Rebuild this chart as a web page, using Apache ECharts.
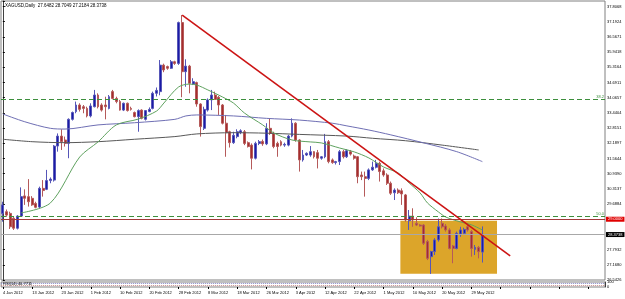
<!DOCTYPE html>
<html>
<head>
<meta charset="utf-8">
<script src="https://cdn.jsdelivr.net/npm/echarts@6/dist/echarts.min.js"></script>
<style>
  html, body { margin: 0; padding: 0; background: #fff; }
  #chart { width: 625px; height: 299px; }
</style>
</head>
<body>
<div id="chart"></div>
<script>
// bar dates (daily, broker feed incl. Sunday bars)
const dates = [
  '4 Jan 2012','5 Jan 2012','6 Jan 2012','8 Jan 2012','9 Jan 2012','10 Jan 2012','11 Jan 2012','12 Jan 2012',
  '13 Jan 2012','15 Jan 2012','16 Jan 2012','17 Jan 2012','18 Jan 2012','19 Jan 2012','20 Jan 2012','22 Jan 2012',
  '23 Jan 2012','24 Jan 2012','25 Jan 2012','26 Jan 2012','27 Jan 2012','29 Jan 2012','30 Jan 2012','31 Jan 2012',
  '1 Feb 2012','2 Feb 2012','3 Feb 2012','5 Feb 2012','6 Feb 2012','7 Feb 2012','8 Feb 2012','9 Feb 2012',
  '10 Feb 2012','12 Feb 2012','13 Feb 2012','14 Feb 2012','15 Feb 2012','16 Feb 2012','17 Feb 2012','19 Feb 2012',
  '20 Feb 2012','21 Feb 2012','22 Feb 2012','23 Feb 2012','24 Feb 2012','25 Feb 2012','26 Feb 2012','27 Feb 2012',
  '28 Feb 2012','29 Feb 2012','1 Mar 2012','2 Mar 2012','4 Mar 2012','5 Mar 2012','6 Mar 2012','7 Mar 2012',
  '8 Mar 2012','9 Mar 2012','11 Mar 2012','12 Mar 2012','13 Mar 2012','14 Mar 2012','15 Mar 2012','16 Mar 2012',
  '18 Mar 2012','19 Mar 2012','20 Mar 2012','21 Mar 2012','22 Mar 2012','23 Mar 2012','24 Mar 2012','25 Mar 2012',
  '26 Mar 2012','27 Mar 2012','28 Mar 2012','29 Mar 2012','30 Mar 2012','31 Mar 2012','1 Apr 2012','2 Apr 2012',
  '3 Apr 2012','4 Apr 2012','5 Apr 2012','6 Apr 2012','8 Apr 2012','9 Apr 2012','10 Apr 2012','11 Apr 2012',
  '12 Apr 2012','13 Apr 2012','15 Apr 2012','16 Apr 2012','17 Apr 2012','18 Apr 2012','19 Apr 2012','20 Apr 2012',
  '22 Apr 2012','23 Apr 2012','24 Apr 2012','25 Apr 2012','26 Apr 2012','27 Apr 2012','29 Apr 2012','30 Apr 2012',
  '1 May 2012','2 May 2012','3 May 2012','4 May 2012','6 May 2012','7 May 2012','8 May 2012','9 May 2012',
  '10 May 2012','11 May 2012','13 May 2012','14 May 2012','15 May 2012','16 May 2012','17 May 2012','18 May 2012',
  '20 May 2012','21 May 2012','22 May 2012','23 May 2012','24 May 2012','25 May 2012','27 May 2012','28 May 2012',
  '29 May 2012','30 May 2012','31 May 2012','1 Jun 2012'
];

// [open, close, low, high]
const candles = [
  [29.24,29.59,28.90,29.72],[29.31,29.17,29.10,29.40],[29.24,28.69,28.60,29.31],[29.04,28.63,28.56,29.11],
  [28.63,29.13,28.58,29.17],[29.13,29.93,29.10,30.31],[29.96,29.86,29.59,30.23],[29.93,29.72,29.52,30.65],
  [29.86,29.59,29.55,29.95],[29.65,29.49,29.45,29.72],[29.50,30.27,29.45,30.34],[30.27,30.18,29.93,30.61],
  [30.23,30.59,30.20,31.03],[30.59,30.65,30.48,30.72],[30.61,32.01,30.55,32.05],[32.01,32.42,31.78,32.53],
  [32.42,32.19,31.85,32.70],[32.26,32.12,31.99,32.40],[32.12,33.11,31.51,33.15],[33.11,33.39,33.06,33.43],
  [33.43,33.70,33.36,33.84],[33.70,33.52,33.43,33.77],[33.63,33.56,33.36,33.70],[33.56,33.25,33.19,33.63],
  [33.25,33.66,33.19,33.77],[33.63,34.11,33.60,34.32],[34.11,33.63,33.56,34.18],[33.70,33.49,33.43,33.77],
  [33.70,33.63,33.11,34.04],[33.56,34.04,33.52,34.11],[34.25,33.97,33.93,34.32],[33.97,33.84,33.77,34.04],
  [33.84,33.49,33.47,33.91],[33.49,33.77,33.45,33.80],[33.77,33.47,33.43,33.80],[33.56,33.52,33.47,33.63],
  [33.39,33.22,33.19,33.43],[33.22,33.47,32.60,33.52],[33.49,33.15,33.11,33.52],[33.11,33.47,33.06,33.49],
  [33.43,33.52,33.40,33.60],[33.56,34.18,33.52,34.25],[34.18,34.30,34.05,34.42],[34.25,35.34,34.10,35.55],
  [35.34,35.14,35.05,35.40],[35.28,35.21,35.15,35.32],[35.21,35.48,35.18,35.55],[35.48,35.41,35.35,35.52],
  [35.41,37.09,35.35,37.13],[37.09,35.07,34.02,37.40],[35.07,35.30,34.45,35.58],[35.30,34.59,34.18,35.35],
  [34.56,34.66,34.52,34.80],[34.62,33.74,33.63,34.66],[33.74,32.81,32.40,33.77],[32.74,33.52,32.67,33.63],
  [33.49,33.91,33.43,33.97],[33.91,34.11,33.49,34.32],[34.11,33.93,33.91,34.25],[34.02,33.70,33.29,34.07],
  [33.70,32.95,32.90,33.74],[32.95,32.56,31.57,33.29],[32.60,32.15,31.95,32.64],[32.15,32.45,32.10,32.60],
  [32.40,32.60,32.33,32.70],[32.56,32.64,32.50,32.70],[32.60,32.12,32.05,32.67],[32.15,31.99,31.95,32.20],
  [32.05,31.51,31.05,32.12],[31.51,32.12,31.46,32.19],[32.12,32.19,32.05,32.26],[32.20,32.10,32.02,32.28],
  [32.10,32.74,32.05,32.95],[32.74,32.53,32.47,33.15],[32.53,31.99,31.92,32.60],[32.12,31.99,31.57,32.19],
  [32.19,32.05,32.00,32.25],[32.05,32.08,31.98,32.15],[32.05,32.42,32.00,32.47],[32.42,32.95,32.37,33.15],
  [32.95,32.26,32.19,32.99],[32.26,31.44,30.96,32.29],[31.44,31.64,31.37,31.85],[31.64,31.71,31.60,31.75],
  [31.64,31.78,31.57,32.01],[31.78,31.57,31.50,31.80],[31.74,31.51,31.09,31.85],[31.51,31.57,31.45,31.60],
  [31.57,32.19,31.51,32.51],[32.19,31.37,31.30,32.26],[31.44,31.33,31.28,31.50],[31.33,31.37,31.25,31.40],
  [31.37,31.78,31.23,31.85],[31.78,31.57,31.50,31.85],[31.57,31.82,31.52,31.88],[31.78,31.68,31.62,31.85],
  [31.60,31.51,31.45,31.66],[31.57,30.75,30.48,31.60],[30.82,30.75,30.61,30.96],[30.75,30.68,29.93,30.96],
  [30.68,31.03,30.61,31.09],[31.03,31.14,30.99,31.37],[31.14,31.30,31.09,31.44],[31.30,30.96,30.55,31.37],
  [30.99,30.82,30.75,31.09],[30.82,30.48,30.41,30.89],[30.48,30.07,30.00,30.55],[30.09,30.20,29.79,30.27],
  [30.20,30.09,30.04,30.27],[30.17,30.04,29.59,30.27],[30.00,28.97,28.90,30.04],[28.94,29.13,28.56,29.38],
  [29.13,28.97,28.69,29.45],[28.83,28.76,28.72,29.08],[28.76,28.72,28.70,28.80],[28.76,28.01,27.94,28.80],
  [28.08,27.39,27.32,28.15],[27.46,27.67,26.75,27.70],[27.67,28.15,27.53,28.22],[28.15,28.69,28.08,29.03],
  [28.83,28.69,28.62,29.03],[28.72,28.56,28.49,28.80],[28.56,27.80,27.76,28.63],[27.90,27.80,27.19,27.94],
  [27.80,28.42,27.76,28.49],[28.39,28.56,28.28,28.69],[28.42,28.58,28.40,28.65],[28.69,28.56,28.49,28.76],
  [28.49,27.80,27.46,28.56],[27.76,27.84,27.53,27.94],[27.84,27.67,27.39,27.90],[27.6482,28.3738,27.2184,28.7049]
];

// moving averages read at sample bars: [bar, price]
const maFast = [[5,29.26],[13,29.67],[21,31.56],[26,32.18],[31,32.88],[37,33.12],[42,33.45],[44,33.78],
  [48,34.44],[51,34.56],[53,34.52],[56,34.32],[60,34.03],[63,33.78],[66,33.37],[71,32.88],[74,32.55],
  [79,32.26],[84,32.18],[87,32.14],[92,31.93],[96,31.77],[100,31.52],[104,31.15],[108,30.90],[111,30.49],
  [114,30.08],[116,29.67],[119,29.30],[121,29.09],[125,28.89],[128,28.77],[131,28.56]];
const maMid = [[0,33.33],[6,33.01],[13,32.74],[17,32.71],[26,32.88],[36,32.97],[47,33.11],[50,33.25],
  [53,33.29],[63,33.25],[72,33.15],[81,33.08],[90,32.95],[94,32.84],[100,32.67],[106,32.47],[115,32.14],
  [124,31.78],[131,31.37]];
const maSlow = [[0,32.29],[8,32.19],[17,32.15],[26,32.19],[36,32.29],[47,32.40],[53,32.51],[63,32.56],
  [72,32.54],[81,32.49],[94,32.42],[101,32.33],[110,32.23],[120,32.05],[130,31.85]];

// objects
const trendLine = [[49.0,37.40],[138.6,27.49]];
const zoneBox = [[108.6,28.94],[135.0,26.76]];
const fibLevels = [['38.2',33.93],['50.0',29.11]];
const resistance = 29.00;
const lastPrice = 28.3738;

const priceTicks = ['26.5426','27.1680','27.7932','','','29.6884','30.3137','30.9390','31.5644','32.1897',
  '32.8151','33.4404','34.0657','34.6911','35.3164','35.9418','36.5671','37.1924','37.8068'];
const yMin = 26.5, yMax = 37.978, yStep = 0.62534;
const N = 165;

const cats = dates.slice();
while (cats.length < N) cats.push('');

const font = 'Liberation Sans';
const chart = echarts.init(document.getElementById('chart'));

const option = {
  animation: false,
  backgroundColor: '#ffffff',
  textStyle: { fontFamily: font },
  title: [
    { text: 'XAGUSD,Daily  27.6482 28.7049 27.2184 28.3738', left: 5, top: 3, padding: 0,
      textStyle: { fontSize: 4.5, fontWeight: 'normal', color: '#000', fontFamily: font } },
    { text: 'RSI(14) 40.7711', left: 3, top: 282, padding: 0,
      textStyle: { fontSize: 4, fontWeight: 'normal', color: '#000', fontFamily: font } }
  ],
  grid: [
    { left: 1, right: 20, top: 1, height: 279, show: true, borderColor: '#808080', borderWidth: 1 },
    { left: 1, right: 20, top: 282, height: 5, show: true, borderColor: '#808080', borderWidth: 1 }
  ],
  xAxis: [
    { type: 'category', gridIndex: 0, data: cats, boundaryGap: true,
      axisLine: { show: false }, axisTick: { show: false }, axisLabel: { show: false }, splitLine: { show: false } },
    { type: 'value', gridIndex: 0, min: -0.5, max: N - 0.5, show: false },
    { type: 'category', gridIndex: 1, data: cats, boundaryGap: true,
      axisLine: { show: false },
      axisTick: { show: true, interval: 7, alignWithLabel: true, length: 2, lineStyle: { color: '#000' } },
      axisLabel: { interval: 7, fontSize: 4, margin: 4, align: 'left', color: '#000', fontFamily: font } }
  ],
  yAxis: [
    { type: 'value', gridIndex: 0, position: 'right', min: yMin, max: yMax, interval: yStep, scale: true,
      splitLine: { show: false },
      axisLine: { show: true, lineStyle: { color: '#404040' } },
      axisTick: { show: true, length: 2, lineStyle: { color: '#000' } },
      axisLabel: {
        fontSize: 4, margin: 2, color: '#000', fontFamily: font, padding: [0, 0, 3, 0],
        formatter: v => {
          const k = Math.round((v - yMin) / yStep);
          return Math.abs(yMin + k * yStep - v) < 0.01 ? (priceTicks[k] || '') : '';
        }
      } },
    { type: 'value', gridIndex: 1, position: 'right', min: 0, max: 100, interval: 100,
      splitLine: { show: false },
      axisLine: { show: true, lineStyle: { color: '#404040' } },
      axisTick: { show: false },
      axisLabel: { fontSize: 4, margin: 2, color: '#000', fontFamily: font } }
  ],
  series: [
    {
      // background objects: zone box and horizontal levels
      type: 'line', xAxisIndex: 1, yAxisIndex: 0, z: 1, data: [], silent: true,
      markArea: {
        silent: true,
        itemStyle: { color: '#dca52a', opacity: 1 },
        data: [[{ coord: zoneBox[0] }, { coord: zoneBox[1] }]]
      },
      markLine: {
        silent: true, symbol: ['none', 'none'],
        data: [
          ...fibLevels.map(f => ({
            yAxis: f[1],
            lineStyle: { color: '#3d8f3d', width: 1, type: [5, 3] },
            label: { formatter: f[0], position: 'insideEndTop', distance: [1, 1], fontSize: 4, color: '#3d8f3d', fontFamily: font }
          })),
          { yAxis: resistance,
            lineStyle: { color: '#a33a3a', width: 1, type: 'solid' },
            label: { formatter: '29.0000', position: 'end', distance: 1, fontSize: 4, color: '#fff',
              backgroundColor: '#e00000', padding: [1, 2, 0, 2], fontFamily: font } },
          { yAxis: lastPrice,
            lineStyle: { color: '#a8a8a8', width: 1, type: 'solid' },
            label: { formatter: '28.3738', position: 'end', distance: 1, fontSize: 4, color: '#fff',
              backgroundColor: '#000', padding: [1, 2, 0, 2], fontFamily: font } }
        ]
      }
    },
    {
      type: 'candlestick', xAxisIndex: 0, yAxisIndex: 0, z: 3, data: candles, barWidth: 2.4,
      itemStyle: { color: '#1b1ba6', color0: '#a52d2d', borderColor: '#5656b8', borderColor0: '#b55a5a', borderWidth: 1 }
    },
    { type: 'line', xAxisIndex: 1, yAxisIndex: 0, z: 4, data: maSlow, smooth: 0.3, showSymbol: false,
      lineStyle: { color: '#585858', width: 1 } },
    { type: 'line', xAxisIndex: 1, yAxisIndex: 0, z: 4, data: maMid, smooth: 0.3, showSymbol: false,
      lineStyle: { color: '#6f6fb4', width: 1 } },
    { type: 'line', xAxisIndex: 1, yAxisIndex: 0, z: 4, data: maFast, smooth: 0.3, showSymbol: false,
      lineStyle: { color: '#5fa25f', width: 1 } },
    { type: 'line', xAxisIndex: 1, yAxisIndex: 0, z: 5, data: trendLine, showSymbol: false,
      lineStyle: { color: '#cc1414', width: 1.6 } },
    {
      // RSI sub-window levels
      type: 'line', xAxisIndex: 2, yAxisIndex: 1, data: [], silent: true,
      markLine: {
        silent: true, symbol: ['none', 'none'], label: { show: false },
        data: [
          { yAxis: 70, lineStyle: { color: '#8a8ac8', width: 1, type: 'dotted' } },
          { yAxis: 30, lineStyle: { color: '#c88a8a', width: 1, type: 'dotted' } }
        ]
      }
    }
  ]
};

chart.setOption(option);
</script>
</body>
</html>
